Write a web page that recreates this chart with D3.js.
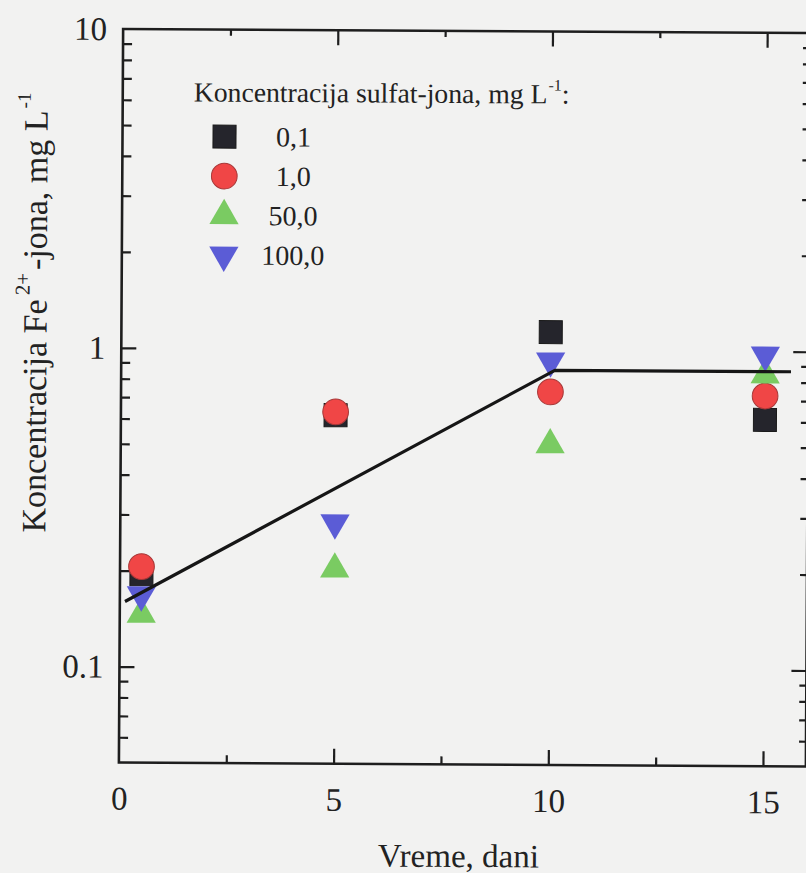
<!DOCTYPE html>
<html>
<head>
<meta charset="utf-8">
<script src="https://cdn.jsdelivr.net/npm/d3@7"></script>
<style>
  html, body { margin: 0; padding: 0; background: #f2f2f1; }
  svg { display: block; }
  text { font-family: "Liberation Serif", "Times New Roman", serif; fill: #222; }
</style>
</head>
<body>
<svg id="chart" width="806" height="873"></svg>
<script>
// Time in days and Fe2+ concentration (mg/L) for each sulfate level
const days = [0.5, 5, 10, 15];
const sulfat01 = [0.195, 0.62, 1.14, 0.61];
const sulfat1 = [0.206, 0.635, 0.74, 0.725];
const sulfat50 = [0.146, 0.204, 0.505, 0.844];
const sulfat100 = [0.168, 0.285, 0.926, 0.975];

// Piecewise trend line
const trendX = [0.12, 10.1, 15.6];
const trendY = [0.16, 0.865, 0.865];

// Axis ticks
const xMajorTicks = [0, 5, 10, 15];
const xMinorTicks = [2.5, 7.5, 12.5];
const yMajorTicks = [0.1, 1, 10];
const yTickLabels = ["0.1", "1", "10"];
const yMinorTicks = [0.06, 0.07, 0.08, 0.09, 0.2, 0.3, 0.4, 0.5, 0.6, 0.7, 0.8, 0.9, 2, 3, 4, 5, 6, 7, 8, 9];

// Legend
const legendTitle = "Koncentracija sulfat-jona, mg L";
const legendLabels = ["0,1", "1,0", "50,0", "100,0"];

const seriesValues = [sulfat01, sulfat1, sulfat50, sulfat100];
const seriesStyle = [
  { symbol: d3.symbolSquare, size: 530, fill: "#25252c", stroke: "#1a1a1a", rotate: 0 },
  { symbol: d3.symbolCircle, size: 520, fill: "#f04646", stroke: "#a83838", rotate: 0 },
  { symbol: d3.symbolTriangle, size: 370, fill: "#7acb62", stroke: "none", rotate: 0 },
  { symbol: d3.symbolTriangle, size: 370, fill: "#5b5cd6", stroke: "none", rotate: 180 }
];

const SERIF = '"Liberation Serif", "Times New Roman", serif';
const L = 121, R = 808, T = 31, B = 764.5;

const svg = d3.select("#chart");
const g = svg.append("g").attr("transform", "rotate(0.33, 465, 400)");

const x = d3.scaleLinear().domain([0, 16]).range([L, R]);
const y = d3.scaleLog().domain([0.05, 10]).range([B, T]);

const axisColor = "#1e1e1e";
const MAJ = 15, MIN = 8;

function styleAxis(sel) {
  sel.attr("font-family", SERIF);
  sel.select(".domain").remove();
  sel.selectAll(".tick line").attr("stroke", axisColor).attr("stroke-width", 2.2);
  sel.selectAll(".tick text")
    .style("font-family", SERIF)
    .style("font-size", "33px")
    .attr("fill", "#222");
}

// Bottom axis: major ticks with labels, inward
g.append("g").attr("transform", `translate(0,${B})`)
  .call(d3.axisBottom(x).tickValues(xMajorTicks).tickSize(-MAJ).tickPadding(14).tickFormat(d3.format("d")))
  .call(styleAxis)
  .call(s => s.selectAll(".tick text").attr("dy", "1em"))
  .call(s => s.selectAll(".tick").filter(d => d === 0).select("line").remove());
g.append("g").attr("transform", `translate(0,${B})`)
  .call(d3.axisBottom(x).tickValues(xMinorTicks).tickSize(-MIN).tickFormat(""))
  .call(styleAxis);

// Top axis: ticks only
g.append("g").attr("transform", `translate(0,${T})`)
  .call(d3.axisTop(x).tickValues(xMajorTicks.filter(d => d > 0)).tickSize(-MAJ).tickFormat(""))
  .call(styleAxis);
g.append("g").attr("transform", `translate(0,${T})`)
  .call(d3.axisTop(x).tickValues(xMinorTicks).tickSize(-6).tickFormat(""))
  .call(styleAxis);

// Left axis: log decades with labels
g.append("g").attr("transform", `translate(${L},0)`)
  .call(d3.axisLeft(y).tickValues(yMajorTicks).tickSize(-MAJ).tickPadding(16)
    .tickFormat((d, i) => yTickLabels[i]))
  .call(styleAxis)
  .call(s => s.selectAll(".tick").filter(d => d === 10).select("line").remove());
g.append("g").attr("transform", `translate(${L},0)`)
  .call(d3.axisLeft(y).tickValues(yMinorTicks).tickSize(-9).tickFormat(""))
  .call(styleAxis);

// Right axis: ticks only
g.append("g").attr("transform", `translate(${R},0)`)
  .call(d3.axisRight(y).tickValues(yMajorTicks.filter(d => d < 10)).tickSize(-MAJ).tickFormat(""))
  .call(styleAxis);
g.append("g").attr("transform", `translate(${R},0)`)
  .call(d3.axisRight(y).tickValues(yMinorTicks).tickSize(-7).tickFormat(""))
  .call(styleAxis);

// Plot frame
g.append("rect")
  .attr("x", L).attr("y", T).attr("width", R - L).attr("height", B - T)
  .attr("fill", "none").attr("stroke", axisColor).attr("stroke-width", 2.6);

// Markers
seriesValues.forEach((vals, si) => {
  const st = seriesStyle[si];
  g.append("g").selectAll("path")
    .data(days.map((d, i) => [d, vals[i]]))
    .join("path")
    .attr("d", d3.symbol().type(st.symbol).size(st.size))
    .attr("transform", d => `translate(${x(d[0])},${y(d[1])}) rotate(${st.rotate})`)
    .attr("fill", st.fill)
    .attr("stroke", st.stroke)
    .attr("stroke-width", 1);
});

// Trend line
const trend = trendX.map((v, i) => [v, trendY[i]]);
g.append("path")
  .datum(trend)
  .attr("d", d3.line().x(d => x(d[0])).y(d => y(d[1])))
  .attr("fill", "none")
  .attr("stroke", "#161616")
  .attr("stroke-width", 3.2)
  .attr("stroke-linejoin", "round");

// Y axis title
const yTitle = g.append("text")
  .attr("transform", "translate(46,535) rotate(-90)")
  .style("font-size", "34px");
yTitle.append("tspan").text("Koncentracija Fe");
yTitle.append("tspan").attr("dx", 4).attr("dy", -17).style("font-size", "21px").text("2+");
yTitle.append("tspan").attr("dx", 3).attr("dy", 17).text("-jona, mg L");
yTitle.append("tspan").attr("dx", 2).attr("dy", -17).style("font-size", "19px").text("-1");

// X axis title
g.append("text")
  .attr("x", 461).attr("y", 867)
  .attr("text-anchor", "middle")
  .style("font-size", "33px")
  .text("Vreme, dani");

// Legend
const leg = g.append("g");
const lt = leg.append("text").attr("x", 192).attr("y", 103).style("font-size", "27.7px");
lt.append("tspan").text(legendTitle);
lt.append("tspan").attr("dx", 1).attr("dy", -13).style("font-size", "16px").text("-1");
lt.append("tspan").attr("dy", 13).text(":");

const legRowY = [138, 177.5, 217, 256.5];
legendLabels.forEach((lab, i) => {
  const st = seriesStyle[i];
  leg.append("path")
    .attr("d", d3.symbol().type(st.symbol).size(st.size))
    .attr("transform", `translate(223,${legRowY[i]}) rotate(${st.rotate})`)
    .attr("fill", st.fill)
    .attr("stroke", st.stroke)
    .attr("stroke-width", 1);
  leg.append("text")
    .attr("x", 292).attr("y", legRowY[i] + 9.5)
    .attr("text-anchor", "middle")
    .style("font-size", "28px")
    .text(lab);
});
</script>
</body>
</html>
